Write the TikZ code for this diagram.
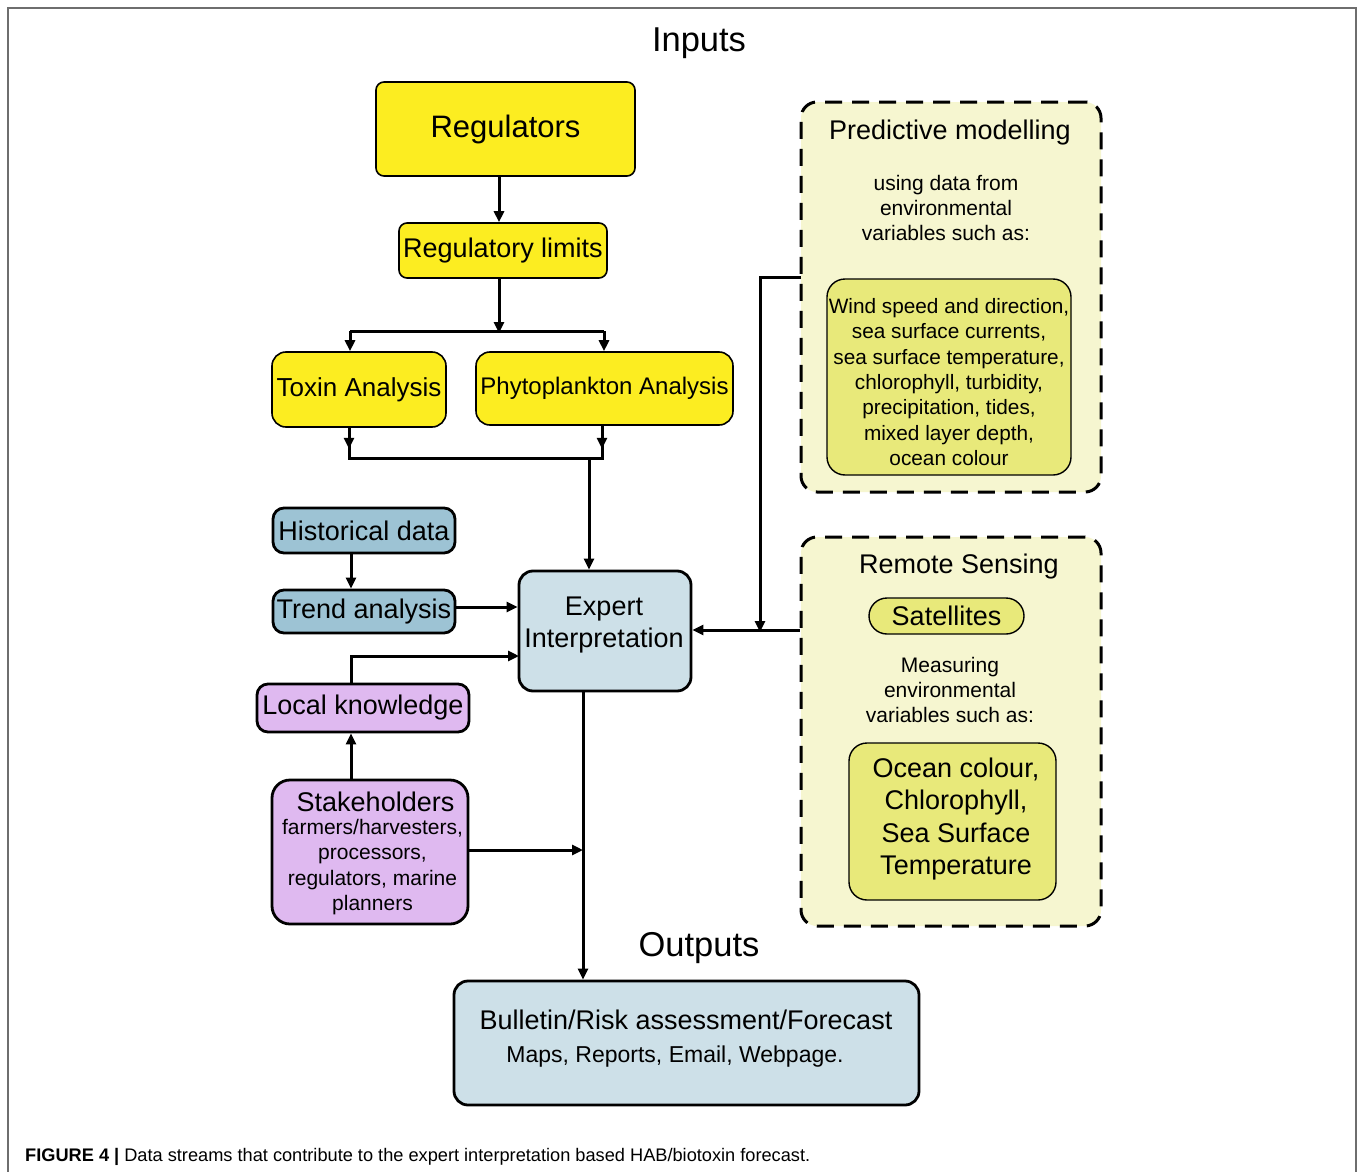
\documentclass[tikz,border=0pt]{standalone}
\usepackage{fontspec}
\setmainfont{Liberation Sans}
\usetikzlibrary{arrows.meta}
\definecolor{ylw}{RGB}{252,237,33}
\definecolor{lblue}{RGB}{205,224,232}
\definecolor{mblue}{RGB}{157,195,212}
\definecolor{lav}{RGB}{223,185,240}
\definecolor{cream}{RGB}{246,246,208}
\definecolor{ygreen}{RGB}{232,233,122}
\definecolor{framegray}{RGB}{110,110,110}
\newcommand\fs[2]{\fontsize{#1}{#2}\selectfont}
\tikzset{
  box/.style={draw, rounded corners=8pt, line width=1.6pt, inner sep=0pt, align=center},
  thickbox/.style={box, line width=2.8pt, rounded corners=11pt},
  dashbox/.style={draw, fill=cream, rounded corners=16pt, line width=3pt, dash pattern=on 17pt off 10pt, inner sep=0pt},
  txt/.style={inner sep=0pt, align=center},
  conn/.style={line width=3pt, -{Triangle[length=11pt,width=10pt]}},
  plain/.style={line width=3pt},
}
\begin{document}
\begin{tikzpicture}[x=1pt,y=-1pt]
\useasboundingbox (0,0) rectangle (1358,1172);
\fill[white] (0,0) rectangle (1358,1172);
% frame
\draw[framegray, line width=1.6pt] (8,1172) -- (8,8) -- (1356,8) -- (1356,1172);

% titles
\node[txt, font=\fs{34.5}{40}] (inputs) at (699,43) {Inputs};
\node[txt, font=\fs{34.5}{40}] (outputs) at (699,948) {Outputs};

% yellow chain
\node[box, fill=ylw, minimum width=259pt, minimum height=94pt, font=\fs{31}{36}] (reg) at (505.5,129) {Regulators};
\node[box, fill=ylw, minimum width=208pt, minimum height=55pt, font=\fs{27}{32}] (lim) at (503,250.5) {Regulatory limits};
\node[box, fill=ylw, rounded corners=14pt, minimum width=174pt, minimum height=75pt, font=\fs{26}{30}] (tox) at (359,389.5) {Toxin Analysis};
\node[box, fill=ylw, rounded corners=14pt, minimum width=257pt, minimum height=73pt, font=\fs{24}{28}] (phy) at (604.5,388.5) {Phytoplankton Analysis};

% left column
\node[thickbox, fill=mblue, minimum width=182pt, minimum height=45pt, font=\fs{27}{32}] (his) at (364,530.5) {Historical data};
\node[thickbox, fill=mblue, minimum width=182pt, minimum height=43pt, font=\fs{27}{32}] (trd) at (364,611.5) {Trend analysis};
\node[thickbox, fill=lav, minimum width=212pt, minimum height=48pt, font=\fs{27}{32}] (loc) at (363,708) {Local knowledge};
\node[thickbox, fill=lav, rounded corners=18pt, minimum width=196pt, minimum height=144pt] (stk) at (370,852) {};
\node[txt, font=\fs{27}{32}] (stkt) at (375.5,802) {Stakeholders};
\node[txt, font=\fs{21}{25.2}] (stkd) at (372.5,867) {farmers/harvesters,\\processors,\\regulators, marine\\planners};

% expert
\node[thickbox, fill=lblue, rounded corners=14pt, minimum width=172pt, minimum height=120pt] (exp) at (605,631) {};
\node[txt, font=\fs{27}{32}] (expt) at (604,625) {Expert\\Interpretation};

% bulletin
\node[thickbox, fill=lblue, rounded corners=14pt, minimum width=465pt, minimum height=124pt] (bul) at (686.5,1043) {};
\node[txt, font=\fs{27}{32}] (bult) at (686,1020) {Bulletin/Risk assessment/Forecast};
\node[txt, font=\fs{23}{28}] (buls) at (675,1057) {Maps, Reports, Email, Webpage.};

% predictive modelling
\node[dashbox, minimum width=300pt, minimum height=390pt] (pred) at (951,297) {};
\node[txt, font=\fs{27}{32}] (predt) at (950,133) {Predictive modelling};
\node[txt, font=\fs{21}{25.2}] (preds) at (946,208) {using data from\\environmental\\variables such as:};
\node[box, fill=ygreen, rounded corners=18pt, line width=1.4pt, minimum width=244pt, minimum height=196pt] (wind) at (949,377) {};
\node[txt, font=\fs{20.8}{25.3}] (windt) at (949,382) {Wind speed and direction,\\sea surface currents,\\sea surface temperature,\\chlorophyll, turbidity,\\precipitation, tides,\\mixed layer depth,\\ocean colour};

% remote sensing
\node[dashbox, minimum width=300pt, minimum height=389pt] (rem) at (951,731.5) {};
\node[txt, font=\fs{27}{32}] (remt) at (959,567) {Remote Sensing};
\node[box, fill=ygreen, rounded corners=18pt, line width=1.4pt, minimum width=155pt, minimum height=36pt, font=\fs{27}{32}] (sat) at (946.5,616) {Satellites};
\node[txt, font=\fs{21}{25.2}] (rems) at (950,690) {Measuring\\environmental\\variables such as:};
\node[box, fill=ygreen, rounded corners=18pt, line width=1.4pt, minimum width=207pt, minimum height=157pt] (ocn) at (952.5,821.5) {};
\node[txt, font=\fs{27}{32.5}] (ocnt) at (956,819) {Ocean colour,\\Chlorophyll,\\Sea Surface\\Temperature};

% junction coordinates
\coordinate (j1) at (499,331);
\coordinate (jt) at (350,331);
\coordinate (jp) at (604,331);
\coordinate (jt2) at (349,458);
\coordinate (jp2) at (602,458);
\coordinate (jm) at (589,458);
\coordinate (colL) at (351,0);
\coordinate (trdE) at (455,607);
\coordinate (kE) at (519,656);
\coordinate (cV) at (583,0);
\coordinate (sj) at (583,850);
\coordinate (pw) at (801,277);
\coordinate (pj) at (760,630);

% connectors
\draw[conn] (reg.south -| j1) -- (lim.north -| j1);
\draw[conn] (lim.south -| j1) -- ([yshift=-2pt]j1);
\draw[plain] (jt) -- (jp);
\draw[conn] (jt) -- (jt |- tox.north);
\draw[conn] (jp) -- (jp |- phy.north);
\draw[plain] (tox.south -| jt2) -- (jt2) -- (jp2) -- (phy.south -| jp2);
\draw[conn] (tox.south -| jt2) -- ++(0,21);
\draw[conn] (phy.south -| jp2) -- ++(0,23);
\draw[conn] (jm) -- (jm |- exp.north);
\draw[conn] (his.south -| colL) -- (trd.north -| colL);
\draw[conn] (trdE) -- (trdE -| exp.west);
\draw[conn] (loc.north -| colL) |- (kE);
\draw[conn] (stk.north -| colL) -- (loc.south -| colL);
\draw[conn] (exp.south -| cV) -- (bul.north -| cV);
\draw[conn] (stk.east |- sj) -- (sj);
\draw[conn] (pw) -| ([yshift=-2pt]pj);
\draw[conn] (rem.west |- pj) -- (exp.east |- pj);

% caption
\node[anchor=base west, inner sep=0pt, font=\fs{18.2}{21}] (cap) at (25,1161) {\textbf{FIGURE 4 |} Data streams that contribute to the expert interpretation based HAB/biotoxin forecast.};
\end{tikzpicture}
\end{document}
